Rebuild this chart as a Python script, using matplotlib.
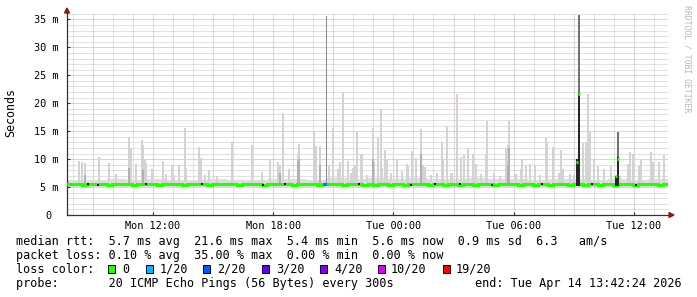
import matplotlib
matplotlib.use('Agg')
import matplotlib.pyplot as plt
from matplotlib.patches import Rectangle, Polygon

W, H = 697, 297
T0 = 7.707          # Mon 07:42:24, hours since Mon 00:00
T1 = T0 + 30.0      # Tue 13:42:24

# median rtt in ms, one value per 15 minutes
median_ms = [5.5, 5.6, 5.5, 5.4, 5.5, 5.5, 5.6, 5.5, 5.4, 5.5, 5.5, 5.6,
             5.5, 5.4, 5.5, 5.6, 5.5, 5.5, 5.4, 5.5, 5.6, 5.5, 5.5, 5.4,
             5.5, 5.5, 5.6, 5.5, 5.4, 5.5, 5.5, 5.6, 5.5, 5.5, 5.4, 5.5,
             5.6, 5.5, 5.5, 5.4, 5.5, 5.6, 5.5, 5.5, 5.5, 5.4, 5.5, 5.6,
             5.5, 5.5, 5.4, 5.5, 5.5, 5.6, 5.5, 5.4, 5.5, 5.5, 5.5, 5.4,
             5.5, 5.4, 5.5, 5.5, 5.4, 5.5, 5.5, 5.4, 5.5, 5.5, 5.6, 5.5,
             5.4, 5.5, 5.5, 5.4, 5.5, 5.5, 5.4, 5.5, 5.5, 5.4, 5.5, 5.5,
             5.5, 5.4, 5.5, 5.5, 5.6, 5.5, 5.4, 5.5, 5.5, 5.4, 5.5, 5.5,
             5.4, 5.5, 5.5, 5.5, 5.4, 5.5, 5.5, 5.4, 5.5, 5.5, 5.4, 5.5,
             5.5, 5.4, 5.5, 5.5, 5.5, 5.4, 5.5, 5.6, 5.5, 5.5, 5.4, 5.5]

# smoke band around the median, one value per hour
smoke_lo = [5.1, 5.0, 5.1, 5.1, 5.0, 5.1, 5.0, 5.1, 5.1, 5.0, 5.1, 5.0, 5.0, 5.1, 5.0, 5.1,
            5.0, 5.0, 5.1, 5.0, 5.1, 5.0, 5.1, 5.0, 5.0, 5.1, 5.0, 5.1, 5.0, 5.1, 5.0]
smoke_hi = [6.2, 6.3, 6.4, 6.2, 6.5, 6.3, 6.2, 6.4, 6.3, 6.2, 6.5, 6.4, 6.3, 6.6, 6.5, 6.7,
            6.5, 6.6, 6.4, 6.5, 6.6, 6.4, 6.5, 6.3, 6.4, 6.5, 6.3, 6.4, 6.3, 6.4, 6.3]

# smoke spikes: time (h), top (ms), darker part top (ms, 0 = none)
spike_h = [8.33, 8.48, 8.59, 9.32, 9.82, 10.16, 10.82, 10.92, 11.16, 11.43, 11.51, 11.6,
           11.66, 11.94, 12.49, 12.66, 12.94, 13.06, 13.32, 13.59, 13.65, 14.32, 14.4, 14.59,
           14.82, 15.2, 15.96, 16.94, 17.44, 17.86, 18.25, 18.35, 18.49, 18.81, 19.22, 19.3,
           20.06, 20.16, 20.32, 20.77, 21.0, 21.24, 21.32, 21.49, 21.74, 21.9, 22.0, 22.1,
           22.19, 22.36, 22.41, 22.7, 22.99, 23.05, 23.23, 23.36, 23.45, 23.57, 23.66, 23.9,
           24.16, 24.45, 24.68, 24.75, 24.94, 25.11, 25.38, 25.47, 25.57, 25.9, 26.2, 26.42,
           26.5, 26.66, 26.9, 27.16, 27.36, 27.52, 27.72, 27.99, 28.11, 28.35, 28.61, 28.69,
           29.0, 29.3, 29.61, 29.7, 29.77, 30.1, 30.36, 30.44, 30.61, 30.81, 31.06, 31.3,
           31.61, 31.69, 31.99, 32.27, 32.36, 32.49, 32.8, 33.0, 33.44, 33.61, 33.72, 33.82,
           33.99, 34.22, 34.52, 34.86, 35.3, 35.69, 35.82, 35.94, 36.27, 36.36, 36.86, 36.94,
           37.27, 37.49]
spike_top = [9.7, 9.5, 9.3, 10.4, 9.3, 7.3, 13.9, 12.0, 9.1, 13.4, 12.5, 10.0,
             9.3, 8.2, 9.6, 7.4, 8.9, 7.1, 8.9, 15.5, 8.4, 12.1, 10.2, 7.1,
             8.1, 7.0, 13.1, 12.5, 7.7, 10.1, 9.5, 9.0, 18.3, 8.2, 11.0, 12.7,
             15.1, 12.4, 12.3, 8.9, 15.6, 8.2, 9.5, 22.0, 9.7, 7.5, 8.5, 9.0,
             14.9, 10.8, 11.0, 7.2, 15.5, 9.5, 13.9, 18.9, 8.5, 11.6, 10.0, 7.5,
             10.1, 7.8, 9.1, 8.7, 11.4, 10.2, 15.4, 9.0, 8.6, 7.2, 7.6, 13.1,
             10.0, 15.9, 7.5, 21.6, 10.4, 10.8, 12.0, 10.9, 9.1, 7.4, 10.8, 16.8,
             7.6, 7.0, 12.0, 12.5, 16.8, 7.3, 8.2, 9.9, 8.9, 9.1, 8.8, 7.2,
             13.7, 12.8, 12.2, 7.6, 11.6, 8.2, 7.4, 7.2, 12.8, 13.1, 21.7, 14.9,
             9.9, 8.8, 8.2, 8.8, 7.0, 9.1, 11.2, 11.0, 8.8, 9.9, 11.2, 9.5,
             9.5, 10.7]
spike_mid = [0, 0, 7.2, 0, 0, 0, 8.5, 0, 0, 0, 8.0, 0,
             0, 0, 0, 0, 0, 0, 0, 0, 0, 0, 0, 0,
             0, 0, 0, 0, 0, 0, 0, 7.5, 0, 0, 9.5, 10.0,
             0, 0, 9.0, 0, 0, 0, 0, 0, 0, 0, 0, 0,
             0, 0, 0, 0, 10.0, 0, 0, 0, 0, 0, 0, 0,
             0, 0, 0, 0, 0, 0, 11.0, 0, 0, 0, 0, 0,
             0, 0, 0, 0, 0, 0, 0, 0, 0, 0, 0, 0,
             0, 0, 0, 9.0, 12.0, 0, 0, 0, 0, 0, 0, 0,
             0, 0, 0, 0, 0, 0, 0, 0, 0, 0, 0, 0,
             0, 0, 0, 0, 0, 0, 0, 0, 0, 0, 0, 0,
             0, 0]

# single outlier reaching the top
outlier_h = [20.67]
outlier_top = [35.7]

# the two loss events: dense dark smoke, grey tail above, median points
dark_h = [33.17, 33.28, 35.11, 35.2]
dark_top = [10.0, 21.6, 7.0, 10.3]
tail_h = [33.28, 35.2]
tail_base = [21.6, 10.3]
tail_top = [35.8, 14.9]
event_med = [9.5, 21.6, 6.9, 10.1]

# median segments with packet loss
loss_h = [20.56, 20.68]
loss_v = [5.5, 5.6]
loss_lvl = ['2/20', '1/20']

dot_h = [8.76, 9.27, 11.64, 14.44, 17.5, 18.6, 22.3, 24.9, 26.1, 27.3, 28.9, 31.4, 33.9, 36.1]
dot_v = [5.5, 5.4, 5.5, 5.5, 5.4, 5.5, 5.5, 5.4, 5.5, 5.5, 5.4, 5.5, 5.5, 5.4]

loss_labels = ['0', '1/20', '2/20', '3/20', '4/20', '10/20', '19/20']
loss_colors = ['#26ff00', '#00b8ff', '#0059ff', '#5e00ff', '#7e00ff', '#dd00ff', '#ff0000']

x_ticks = [12, 18, 24, 30, 36]
x_labels = ['Mon 12:00', 'Mon 18:00', 'Tue 00:00', 'Tue 06:00', 'Tue 12:00']
y_ticks = [0, 5, 10, 15, 20, 25, 30, 35]
y_labels = ['0 ', '5 m', '10 m', '15 m', '20 m', '25 m', '30 m', '35 m']

MONO = 'DejaVu Sans Mono'
GREEN = loss_colors[0]


def fx(px):
    return px / W


def fy(py):
    return 1 - py / H


fig = plt.figure(figsize=(W / 100, H / 100), dpi=100)
ax = fig.add_axes([fx(67), fy(215), (668 - 67) / W, (215 - 13) / H])
ax.set_xlim(T0, T1)
ax.set_ylim(0, 36.15)

# grid, dotted 1px on / 1px off
for h in range(8, 38):
    c = '#d9a3a3' if h % 3 == 0 else '#c4c4c4'
    ax.axvline(h, color=c, lw=0.72, ls=(0, (1, 1)), snap=True, zorder=0)
for m in range(1, 37):
    c = '#d9a3a3' if m % 5 == 0 else '#c4c4c4'
    ax.axhline(m, color=c, lw=0.72, ls=(0, (1, 1)), snap=True, zorder=0)

# smoke
hours = [T0 + i for i in range(len(smoke_lo))]
ax.fill_between(hours, smoke_lo, smoke_hi, step='post', color='#dedede', lw=0, zorder=1)
ax.bar(spike_h, [t - 5.3 for t in spike_top], bottom=5.3, width=0.1,
       color='#d3d3d3', lw=0, zorder=2)
mids = [(h, v) for h, v in zip(spike_h, spike_mid) if v > 0]
ax.bar([h for h, v in mids], [v - 5.3 for h, v in mids], bottom=5.3, width=0.1,
       color='#b0b0b0', lw=0, zorder=2.1)
ax.bar(outlier_h, [t - 5.5 for t in outlier_top], bottom=5.5, width=0.05,
       color='#8c8c8c', lw=0, zorder=2.2)

# median
starts = [T0 + 0.25 * i for i in range(len(median_ms))]
ax.step(starts + [T1], median_ms + [median_ms[-1]], where='post', color=GREEN, lw=2.2,
        solid_joinstyle='miter', zorder=3)

# loss events
ax.bar(dark_h, [t - 5.2 for t in dark_top], bottom=5.2, width=0.1,
       color='#262626', lw=0, zorder=4)
ax.bar(tail_h, [t - b for t, b in zip(tail_top, tail_base)], bottom=tail_base, width=0.1,
       color='#727272', lw=0, zorder=4)
ax.hlines(event_med, [h - 0.05 for h in dark_h], [h + 0.05 for h in dark_h],
          colors=GREEN, lw=2.2, zorder=5)
lc = dict(zip(loss_labels, loss_colors))
ax.hlines(loss_v, [h - 0.06 for h in loss_h], [h + 0.06 for h in loss_h],
          colors=[lc[l] for l in loss_lvl], lw=2.2, zorder=5)
ax.scatter(dot_h, dot_v, s=1.0, marker='s', color='black', lw=0, zorder=5)

# axes
for s in ['top', 'right']:
    ax.spines[s].set_visible(False)
for s in ['left', 'bottom']:
    ax.spines[s].set_color('#333333')
    ax.spines[s].set_linewidth(0.9)
ax.set_xticks(x_ticks)
ax.set_xticklabels(x_labels, family=MONO, fontsize=7.4)
ax.set_yticks(y_ticks)
ax.set_yticklabels(y_labels, family=MONO, fontsize=7.4)
ax.tick_params(axis='x', length=2, direction='in', pad=4, colors='#333333', labelcolor='black')
ax.tick_params(axis='y', length=2, direction='in', pad=6, colors='#333333', labelcolor='black')

# arrows
fig.patches.append(Polygon([(fx(64.5), fy(13)), (fx(69.5), fy(13)), (fx(67), fy(8))],
                           closed=True, transform=fig.transFigure, color='#8b1a1a'))
fig.patches.append(Polygon([(fx(669), fy(212.5)), (fx(669), fy(217.5)), (fx(674), fy(215))],
                           closed=True, transform=fig.transFigure, color='#8b1a1a'))

fig.text(fx(11), fy(113), 'Seconds', rotation=90, ha='center', va='center',
         family=MONO, fontsize=8.4)
fig.text(fx(687.5), fy(59), 'RRDTOOL / TOBI OETIKER', rotation=-90, ha='center', va='center',
         family=MONO, fontsize=5.9, color='#b8b8b8')

# legend text
lines = [
    'median rtt:  5.7 ms avg  21.6 ms max  5.4 ms min  5.6 ms now  0.9 ms sd  6.3   am/s',
    'packet loss: 0.10 % avg  35.00 % max  0.00 % min  0.00 % now',
    'loss color:',
    'probe:       20 ICMP Echo Pings (56 Bytes) every 300s',
]
for i, t in enumerate(lines):
    fig.text(fx(16), fy(241.3 + 13.9 * i), t, ha='left', va='center', family=MONO, fontsize=8.5)
fig.text(fx(475), fy(283), 'end: Tue Apr 14 13:42:24 2026', ha='left', va='center',
         family=MONO, fontsize=8.5)

box_x = [108, 146, 203, 262, 320, 378, 443]
label_x = [122, 160, 217, 276, 334, 391, 456]
for bx, lx, lab, col in zip(box_x, label_x, loss_labels, loss_colors):
    fig.patches.append(Rectangle((fx(bx), fy(273)), 7 / W, 8 / H, transform=fig.transFigure,
                                 facecolor=col, edgecolor='black', lw=0.7))
    fig.text(fx(lx), fy(269.2), lab, ha='left', va='center', family=MONO, fontsize=8.5)

fig.savefig('out.png', dpi=100, facecolor='white')
